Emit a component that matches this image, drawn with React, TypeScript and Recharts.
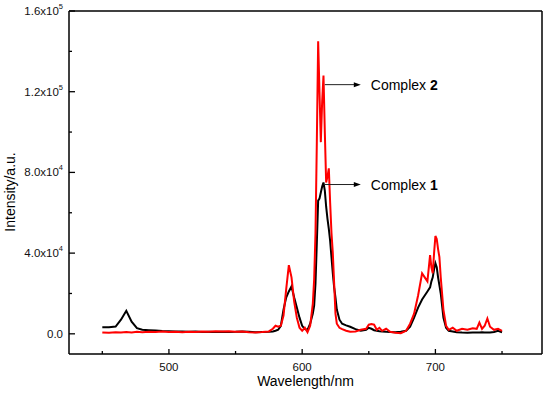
import React from 'react';
import { LineChart, Line, XAxis, YAxis, ReferenceLine } from 'recharts';

// emission spectra
const wavelength = [
  450, 455, 460, 464, 468, 472, 476, 480, 485, 490,
  495, 500, 505, 510, 515, 520, 525, 530, 535, 540,
  545, 550, 555, 560, 565, 570, 575, 578, 580, 582,
  584, 586, 588, 590, 592, 594, 596, 598, 600, 602,
  604, 606, 608, 609, 610, 611, 612, 613, 614, 615,
  616, 617, 618, 619, 620, 621, 622, 623, 624, 625,
  626, 628, 630, 633, 636, 640, 644, 648, 650, 652,
  654, 656, 658, 660, 663, 666, 670, 674, 678, 681,
  684, 687, 690, 692, 694, 696, 697, 698, 699, 700,
  701, 702, 703, 704, 706, 708, 710, 713, 716, 720,
  724, 728, 731, 733, 735, 737, 739, 741, 744, 747,
  750,
];

const complex1 = [
  3300, 3300, 3600, 7000, 11400, 6000, 2800, 2000, 1800, 1600,
  1400, 1300, 1200, 1200, 1000, 1100, 900, 1000, 900, 1000,
  900, 1000, 1200, 1000, 800, 900, 1000, 1200, 1500, 2000,
  4000, 12000, 18000, 21000, 23500, 18000, 13000, 8000, 4000, 2300,
  2000, 5000, 10000, 14000, 25000, 45000, 66000, 67000, 70000, 73000,
  75000, 71000, 63000, 57000, 52000, 46000, 38000, 30000, 23000, 18000,
  12000, 7000, 5000, 4200, 3500, 2300, 1500, 2000, 3000, 2500,
  1800, 1500, 1300, 1200, 1000, 900, 800, 1000, 1500, 3500,
  8000, 13000, 17000, 19000, 21000, 23000, 26000, 28000, 32000, 35000,
  33000, 28000, 24000, 20000, 8000, 3000, 1500, 1200, 800, 600,
  500, 600, 600, 700, 800, 700, 600, 700, 900, 1500,
  800,
];

const complex2 = [
  700, 500, 800, 600, 900, 700, 1000, 800, 1000, 900,
  1100, 900, 1000, 800, 1000, 900, 1100, 1000, 1300, 1100,
  1300, 1000, 1200, 800, 700, 900, 1200, 2500, 4000, 3500,
  4000, 9000, 22000, 34000, 28000, 16000, 8000, 3000, 1500, 3000,
  800, 4000, 15000, 27000, 50000, 95000, 145000, 120000, 95000, 115000,
  128000, 100000, 75000, 78000, 82000, 65000, 50000, 40000, 25000, 10000,
  5000, 3000, 2300, 1500, 1000, 1200, 2000, 2500, 4500, 4800,
  4500, 2000, 3000, 1500, 2500, 1000, 500, 300, 1500, 5000,
  10000, 19000, 30000, 28000, 26000, 39000, 33000, 30000, 40000, 48500,
  47000, 42000, 38000, 28000, 12000, 4000, 2000, 3000, 1500, 2500,
  2000, 2800, 2500, 5600, 2500, 4000, 7600, 3500, 2000, 2500,
  1500,
];

const xTicks = [450, 500, 550, 600, 650, 700, 750];
const xLabelled = [500, 600, 700];
const yTicks = [0, 20000, 40000, 60000, 80000, 100000, 120000, 140000, 160000];
const yLabels: Record<number, [string, string]> = {
  0: ['0.0', ''],
  40000: ['4.0x10', '4'],
  80000: ['8.0x10', '4'],
  120000: ['1.2x10', '5'],
  160000: ['1.6x10', '5'],
};

const data = wavelength.map((w, i) => ({ w, c1: complex1[i], c2: complex2[i] }));

const FONT = '"Liberation Sans", Arial, Helvetica, sans-serif';

const YTick = (props: any) => {
  const { x, y, payload } = props;
  const lab = yLabels[payload.value];
  const len = lab ? 6 : 3;
  return (
    <g>
      <line x1={x} y1={y} x2={x + len} y2={y} stroke="#000" strokeWidth={1.3} />
      {lab && (
        <text x={x - 6} y={y} dy={4} textAnchor="end" fontSize={11.5} fontFamily={FONT} fill="#111">
          <tspan>{lab[0]}</tspan>
          {lab[1] && <tspan dy={-6} fontSize={7.5}>{lab[1]}</tspan>}
        </text>
      )}
    </g>
  );
};

const XTick = (props: any) => {
  const { x, y, payload } = props;
  const major = xLabelled.includes(payload.value);
  return (
    <g>
      <line x1={x} y1={y} x2={x} y2={y - (major ? 5 : 3)} stroke="#000" strokeWidth={1.3} />
      {major && (
        <text x={x} y={y + 17} textAnchor="middle" fontSize={11.5} fontFamily={FONT} fill="#111">
          {payload.value}
        </text>
      )}
    </g>
  );
};

const arrowShape = (name: string, num: string) => (p: any) => {
  const { x1, y1, x2, y2 } = p;
  return (
    <g>
      <line x1={x1} y1={y1} x2={x2 - 5} y2={y2} stroke="#222" strokeWidth={1} />
      <polygon points={`${x2},${y2} ${x2 - 7},${y2 - 2.5} ${x2 - 7},${y2 + 2.5}`} fill="#000" />
      <text x={x2 + 10} y={y2 + 5} fontSize={14} fontFamily={FONT} fill="#000">
        {name}
        <tspan fontWeight="bold">{num}</tspan>
      </text>
    </g>
  );
};

const App: React.FC = () => {
  return (
    <div style={{ position: 'absolute', left: 0, top: 0, width: 550, height: 396, background: '#fff' }}>
      <LineChart width={550} height={396} data={data} margin={{ top: 11, right: 8, left: 0, bottom: 0 }}>
        <XAxis
          dataKey="w"
          type="number"
          domain={[425, 780]}
          ticks={xTicks}
          interval={0}
          height={42}
          tickSize={0}
          tickMargin={0}
          tick={<XTick />}
          axisLine={{ stroke: '#000', strokeWidth: 1.5 }}
          label={{
            content: (lp: any) => {
              const vb = lp.viewBox;
              return (
                <text x={vb.x + vb.width / 2} y={vb.y + 32} textAnchor="middle" fontSize={14} fontFamily={FONT} fill="#000">
                  Wavelength/nm
                </text>
              );
            },
          }}
        />
        <YAxis
          type="number"
          domain={[-10000, 160000]}
          ticks={yTicks}
          interval={0}
          width={69}
          tickSize={0}
          tickMargin={0}
          tick={<YTick />}
          axisLine={{ stroke: '#000', strokeWidth: 1.5 }}
          label={{
            content: () => (
              <text x={15} y={192} transform="rotate(-90, 15, 192)" textAnchor="middle" fontSize={14} fontFamily={FONT} fill="#000">
                Intensity/a.u.
              </text>
            ),
          }}
        />
        <ReferenceLine y={160000} stroke="#000" strokeWidth={1.5} ifOverflow="visible" />
        <ReferenceLine x={780} stroke="#000" strokeWidth={1.5} ifOverflow="visible" />
        <Line type="linear" dataKey="c1" stroke="#000" strokeWidth={2} dot={false} isAnimationActive={false} />
        <Line type="linear" dataKey="c2" stroke="#ff0000" strokeWidth={2} dot={false} isAnimationActive={false} />
        <ReferenceLine
          segment={[{ x: 617, y: 123500 }, { x: 644, y: 123500 }]}
          shape={arrowShape('Complex ', '2')}
        />
        <ReferenceLine
          segment={[{ x: 617, y: 74000 }, { x: 644, y: 74000 }]}
          shape={arrowShape('Complex ', '1')}
        />
      </LineChart>
    </div>
  );
};

export default App;
